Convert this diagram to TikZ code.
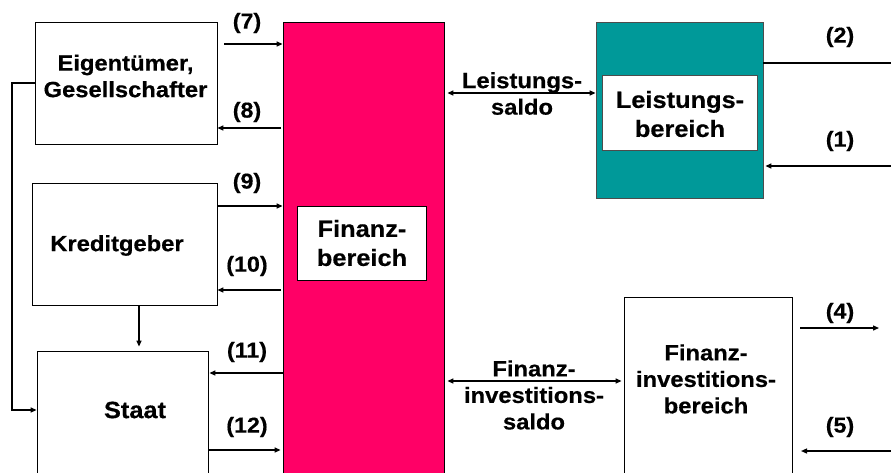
\documentclass[tikz,border=0pt]{standalone}
\usepackage{fontspec}
\setmainfont{Liberation Sans}[FakeStretch=1.08,BoldFeatures={FakeBold=0.5}]
\usetikzlibrary{arrows.meta}
\definecolor{fpink}{HTML}{FF0066}
\definecolor{fteal}{HTML}{009999}
\tikzset{
  box/.style={draw=black,line width=0.8pt,fill=white,inner sep=0pt},
  txt/.style={font=\bfseries\fontsize{22}{26.5}\selectfont,align=center,inner sep=0pt},
  bigtxt/.style={font=\bfseries\fontsize{23.5}{29}\selectfont,align=center,inner sep=0pt},
  lbl/.style={font=\bfseries\fontsize{21.5}{25}\selectfont,inner sep=0pt},
  arr/.style={line width=1.3pt,-{Triangle[length=6pt,width=5pt]}},
  darr/.style={line width=1.3pt,{Triangle[length=6pt,width=5pt]}-{Triangle[length=6pt,width=5pt]}},
  ln/.style={line width=1.3pt}
}
\begin{document}
\begin{tikzpicture}[x=1pt,y=-1pt]
\useasboundingbox (0,0) rectangle (891,472);
\clip (0,0) rectangle (891,472);
% boxes
\node[box,minimum width=182pt,minimum height=122pt] (eig) at (126,83) {};
\node[txt] (eigt) at (125.5,76) {Eigentümer,\\Gesellschafter};
\node[box,minimum width=185pt,minimum height=122pt] (kred) at (124.5,244) {};
\node[txt] (kredt) at (117,245.5) {Kreditgeber};
\node[box,minimum width=171pt,minimum height=140pt] (staat) at (122.5,421) {};
\node[bigtxt] (staatt) at (135,410) {Staat};
\node[draw=black,line width=0.8pt,fill=fpink,minimum width=161pt,minimum height=480pt,inner sep=0pt] (pink) at (363.5,262) {};
\node[box,minimum width=129pt,minimum height=74pt] (fin) at (361.5,243) {};
\node[bigtxt] (fint) at (362,243) {Finanz-\\bereich};
\node[draw=black!70,line width=0.8pt,fill=fteal,minimum width=167pt,minimum height=176pt,inner sep=0pt] (teal) at (679.5,110) {};
\node[box,draw=black!70,minimum width=155pt,minimum height=75pt] (leist) at (679.5,112.5) {};
\node[bigtxt] (leistt) at (680,114) {Leistungs-\\bereich};
\node[box,minimum width=168pt,minimum height=200pt] (fiv) at (708,397) {};
\node[txt] (fivt) at (706,379) {Finanz-\\investitions-\\bereich};
% coordinates for free ends
\coordinate (c7) at (224,44);
\coordinate (c8) at (281,128);
\coordinate (c10) at (281,290);
\coordinate (cL) at (12,83);
\coordinate (c2) at (891,63);
\coordinate (c1) at (891,166);
\coordinate (c4a) at (800,328);
\coordinate (c4b) at (879,328);
\coordinate (c5a) at (891,451);
\coordinate (c5b) at (801,451);
% arrows
\draw[arr] (c7) -- (pink.west |- c7) ;
\draw[arr] (c8) -- (eig.east |- c8);
\draw[arr] (kred.east |- 0,206) -- (pink.west |- 0,206);
\draw[arr] (c10) -- (kred.east |- c10);
\draw[arr,shorten >=4pt] (kred.south -| 139,0) -- (staat.north -| 139,0);
\draw[arr] (eig.west |- cL) -- (cL) |- (staat.west |- 0,410);
\draw[arr,shorten >=1pt] (pink.west |- 0,373) -- (staat.east |- 0,373);
\draw[arr,shorten >=2pt] (staat.east |- 0,450) -- (pink.west |- 0,450);
\draw[darr,shorten <=3pt] (pink.east |- 0,93) -- (teal.west |- 0,93);
\draw[ln] (teal.east |- c2) -- (c2);
\draw[arr,shorten >=2pt] (c1) -- (teal.east |- c1);
\draw[darr,shorten <=3pt,shorten >=2pt] (pink.east |- 0,381) -- (fiv.west |- 0,381);
\draw[arr] (c4a) -- (c4b);
\draw[arr] (c5a) -- (c5b);
% labels
\node[lbl] (l7) at (247,23) {(7)};
\node[lbl] (l8) at (247,112) {(8)};
\node[lbl] (l9) at (247,183) {(9)};
\node[lbl] (l10) at (247,266) {(10)};
\node[lbl] (l11) at (247,352) {(11)};
\node[lbl] (l12) at (247,427) {(12)};
\node[lbl] (l2) at (840,37) {(2)};
\node[lbl] (l1) at (840,141) {(1)};
\node[lbl] (l4) at (840,313) {(4)};
\node[lbl] (l5) at (840,427) {(5)};
\node[txt] (ls) at (522,93.5) {Leistungs-\\saldo};
\node[txt] (fs) at (534,395) {Finanz-\\investitions-\\saldo};
\end{tikzpicture}
\end{document}
